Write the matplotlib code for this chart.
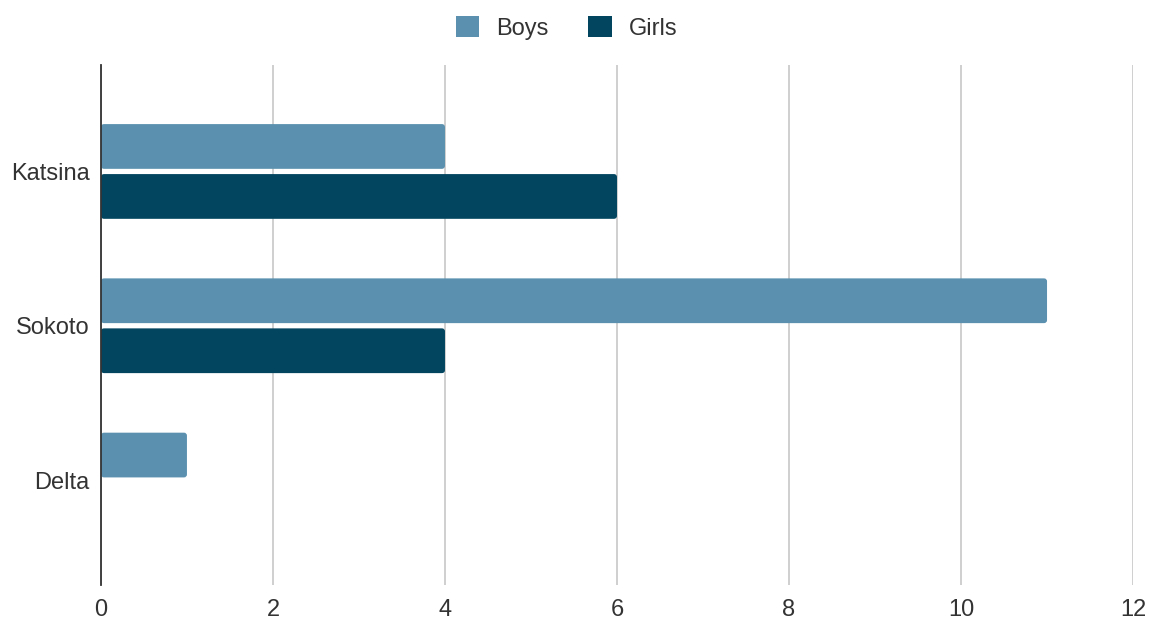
import numpy as np
import matplotlib.pyplot as plt
from matplotlib.patches import FancyBboxPatch, Patch

plt.rcParams['font.family'] = ['Liberation Sans', 'DejaVu Sans']

regions = ["Katsina", "Sokoto", "Delta"]
boys = [4, 11, 1]
girls = [6, 4, 0]
x_ticks = [0, 2, 4, 6, 8, 10, 12]

BOYS_COLOR = "#5b91af"
GIRLS_COLOR = "#01455f"
TEXT_COLOR = "#333333"

fig = plt.figure(figsize=(11.51, 6.19), dpi=100)
ax = fig.add_axes([0.0877, 0.055, 0.8967, 0.84])

y = np.arange(len(regions))
h = 0.29
off = 0.162

# plain bars first, then swapped for rounded boxes at the same place
for vals, shift, col in [(boys, -off, BOYS_COLOR), (girls, off, GIRLS_COLOR)]:
    bars = ax.barh(y + shift, vals, height=h, color=col, zorder=3)
    for r in bars:
        r.set_visible(False)
        if r.get_width() <= 0:
            continue
        box = FancyBboxPatch((r.get_x(), r.get_y()), r.get_width(), r.get_height(),
                             boxstyle="round,pad=0,rounding_size=0.035",
                             mutation_aspect=0.55, facecolor=col, edgecolor="none",
                             zorder=3)
        ax.add_patch(box)

ax.set_xlim(0, 12)
ax.set_ylim(2.68, -0.69)
ax.set_xticks(x_ticks)
ax.set_xticklabels([str(t) for t in x_ticks])
ax.set_yticks(y)
ax.set_yticklabels(regions)
ax.tick_params(axis="both", length=0, labelsize=17, colors=TEXT_COLOR)
ax.tick_params(axis="x", pad=10)
ax.tick_params(axis="y", pad=8)

ax.grid(axis="x", color="#cccccc", linewidth=1.3, zorder=0)
for s in ["top", "right", "bottom"]:
    ax.spines[s].set_visible(False)
ax.spines["left"].set_color(TEXT_COLOR)
ax.spines["left"].set_linewidth(1.3)
ax.spines["left"].set_zorder(4)

handles = [Patch(facecolor=BOYS_COLOR, label="Boys"), Patch(facecolor=GIRLS_COLOR, label="Girls")]
fig.legend(handles=handles, loc="center", bbox_to_anchor=(0.492, 0.955), ncol=2, frameon=False,
           fontsize=17, handlelength=1.0, handleheight=1.0, handletextpad=0.7,
           columnspacing=1.7, labelcolor=TEXT_COLOR)

fig.savefig("out.png", dpi=100)
